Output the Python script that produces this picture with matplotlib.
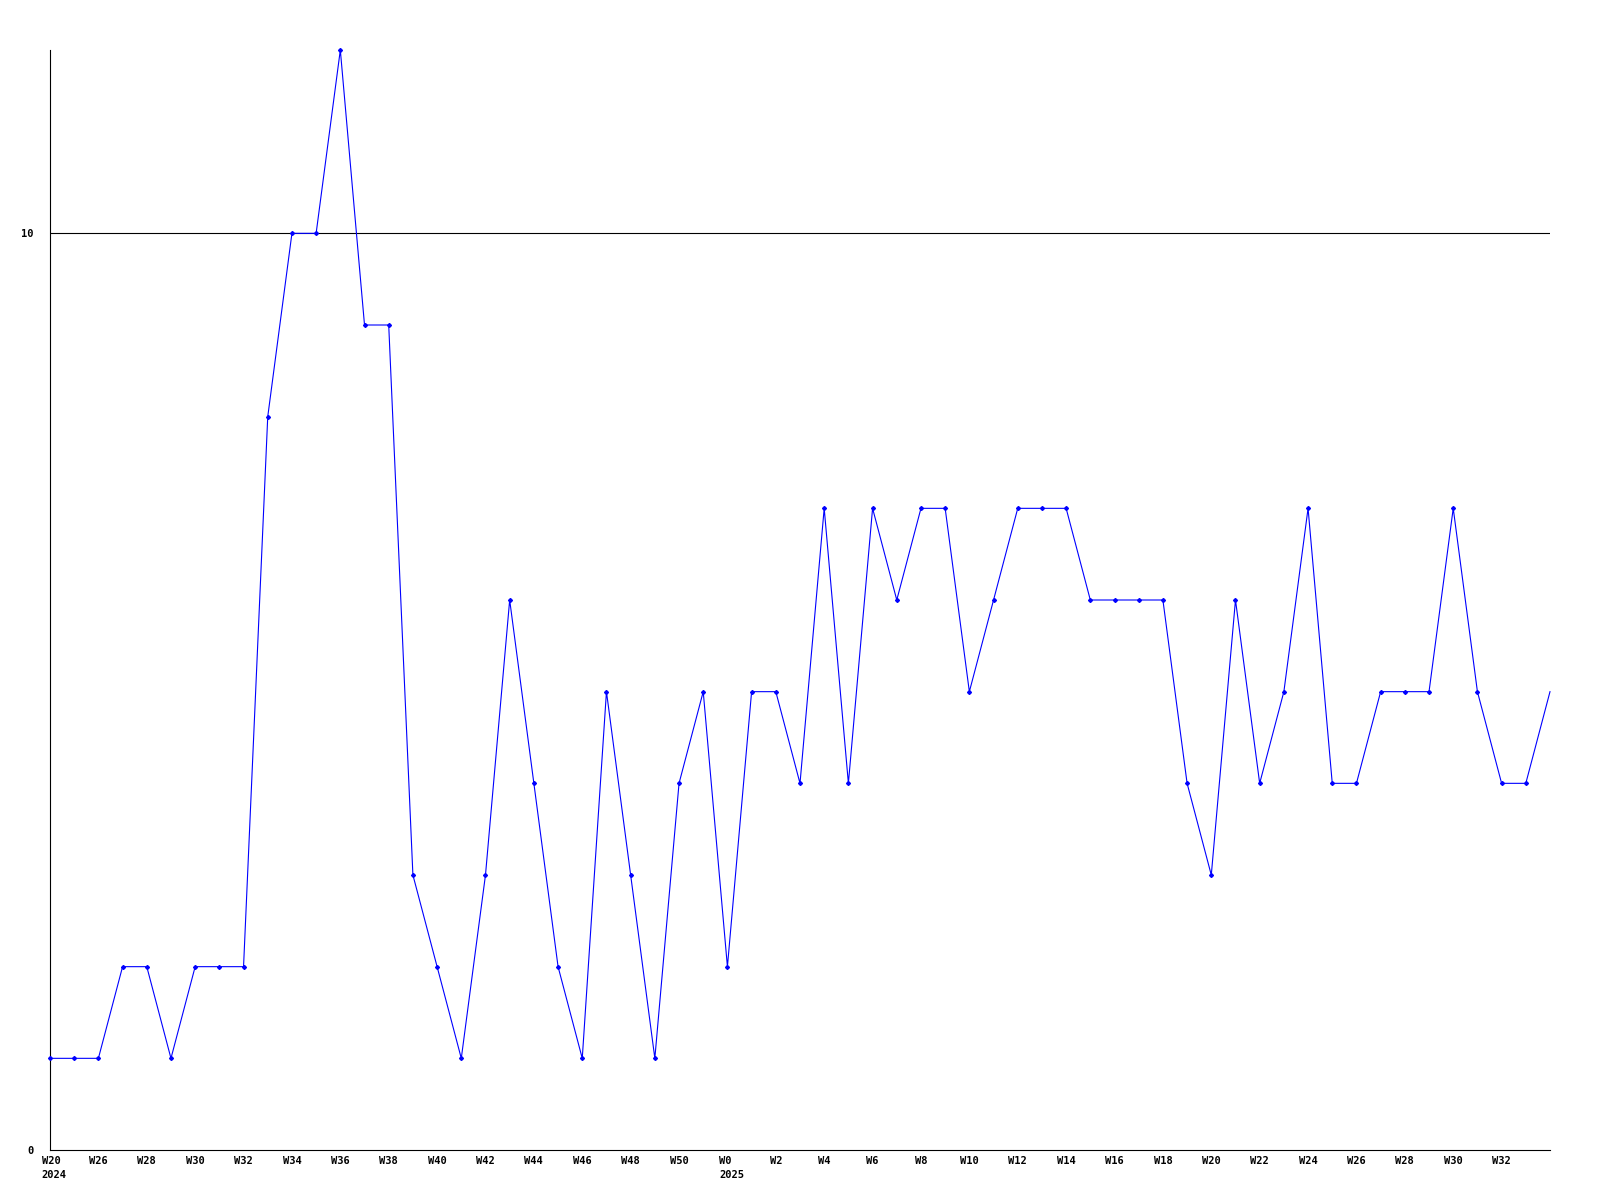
import matplotlib
matplotlib.use("Agg")
import matplotlib.pyplot as plt
import matplotlib.transforms as mtransforms
import numpy as np

# weekly counts, one point per week
valores = [1, 1, 1, 2, 2, 1, 2, 2, 2, 8,
           10, 10, 12, 9, 9, 3, 2, 1, 3, 6,
           4, 2, 1, 5, 3, 1, 4, 5, 2, 5,
           5, 4, 7, 4, 7, 6, 7, 7, 5, 6,
           7, 7, 7, 6, 6, 6, 6, 4, 3, 6,
           4, 5, 7, 4, 4, 5, 5, 5, 7, 5,
           4, 4, 5]

# etiquetas del eje x (cada 2 semanas)
etiquetas = ["W20\n2024", "W26", "W28", "W30", "W32", "W34", "W36", "W38",
             "W40", "W42", "W44", "W46", "W48", "W50", "W0\n2025", "W2",
             "W4", "W6", "W8", "W10", "W12", "W14", "W16", "W18",
             "W20", "W22", "W24", "W26", "W28", "W30", "W32"]
pos_etiquetas = list(range(0, 62, 2))

y_ticks = [0, 10]
limite = 10

fuente = {"family": "DejaVu Sans Mono", "weight": "bold", "size": 7.5}

fig = plt.figure(figsize=(16, 12), dpi=100)
ax = fig.add_axes([50 / 1600, 50 / 1200, 1500 / 1600, 1100 / 1200])

x = np.arange(len(valores))
ax.plot(x, valores, color="blue", linewidth=0.8, marker="D", markersize=2.0,
        markevery=list(range(len(valores) - 1)), clip_on=False, zorder=3)
ax.axhline(limite, color="black", linewidth=0.8, zorder=2)

ax.set_xlim(0, len(valores) - 1)
ax.set_ylim(0, 12)

ax.spines["top"].set_visible(False)
ax.spines["right"].set_visible(False)
ax.spines["left"].set_linewidth(0.8)
ax.spines["bottom"].set_linewidth(0.8)

ax.set_xticks(pos_etiquetas)
ax.set_xticklabels(etiquetas, fontdict=fuente, linespacing=1.6,
                   multialignment="left")
ax.set_yticks(y_ticks)
ax.set_yticklabels([str(v) for v in y_ticks], fontdict=fuente)
ax.tick_params(axis="both", length=0)
ax.tick_params(axis="x", pad=4)
ax.tick_params(axis="y", pad=12)

# las etiquetas con año van un poco a la derecha
for lbl in ax.get_xticklabels():
    if "\n" in lbl.get_text():
        lbl.set_transform(lbl.get_transform() +
                          mtransforms.ScaledTranslation(4 / 100, 0, fig.dpi_scale_trans))

plt.savefig("out.png", dpi=100)
